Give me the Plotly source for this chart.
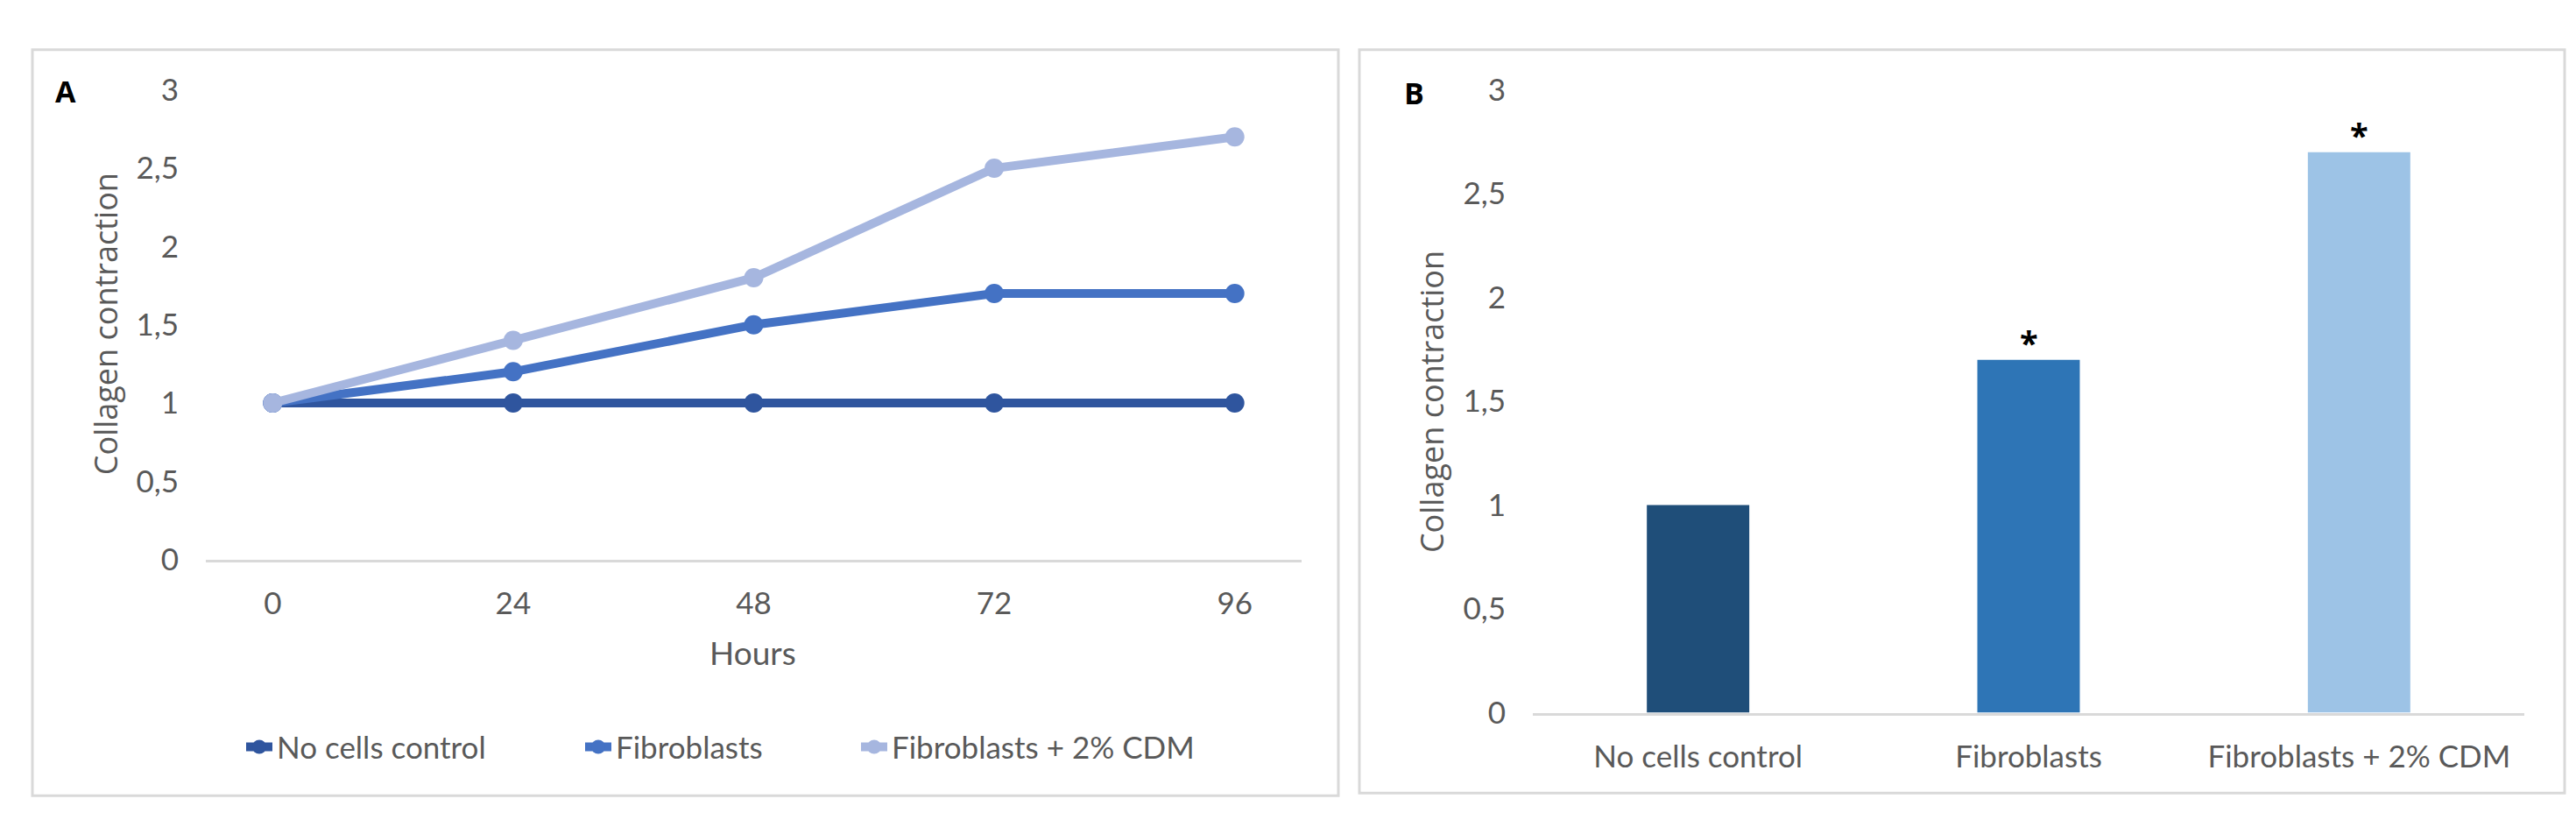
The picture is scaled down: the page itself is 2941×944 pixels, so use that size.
import plotly.graph_objects as go

W, H = 2941, 944

# ---- data ----
hours = ["0", "24", "48", "72", "96"]
no_cells = [1, 1, 1, 1, 1]
fibro = [1, 1.2, 1.5, 1.7, 1.7]
fibro_cdm = [1, 1.4, 1.8, 2.5, 2.7]

groups = ["No cells control", "Fibroblasts", "Fibroblasts + 2% CDM"]
group_vals = [1, 1.7, 2.7]
group_sig = ["", "*", "*"]

y_ticks = [0, 0.5, 1, 1.5, 2, 2.5, 3]
y_tick_text = ["0", "0,5", "1", "1,5", "2", "2,5", "3"]

line_colors = ["#2F559E", "#4472C4", "#A6B6DF"]
bar_colors = ["#1F4E79", "#2E75B6", "#9DC3E6"]

FONT = "Lato"
GRAY = "#595959"
AX = "#D9D9D9"
TICK = 35


def px(x):
    return x / W


def py(y):
    return 1 - y / H


fig = go.Figure()

legend_ids = ["legend", "legend2", "legend3"]
legend_text_x = [308, 695, 1010]

for name, vals, col, lg in zip(groups, [no_cells, fibro, fibro_cdm], line_colors, legend_ids):
    fig.add_trace(go.Scatter(
        x=hours, y=vals, name=name, mode="lines+markers",
        line=dict(color=col, width=10), marker=dict(color=col, size=22),
        xaxis="x", yaxis="y", legend=lg))

fig.add_trace(go.Bar(
    x=groups, y=group_vals, marker=dict(color=bar_colors, line=dict(width=0)),
    width=0.31, showlegend=False, xaxis="x2", yaxis="y2"))

for g, v, s in zip(groups, group_vals, group_sig):
    if s:
        fig.add_annotation(x=g, y=v, xref="x2", yref="y2", text="<b>" + s + "</b>",
                           showarrow=False, yshift=20, xanchor="center", yanchor="middle",
                           font=dict(family="Open Sans", size=38, color="#000000"))

common_y = dict(range=[0, 3], tickvals=y_ticks, ticktext=y_tick_text,
                showgrid=False, zeroline=False, showline=False,
                tickfont=dict(family=FONT, size=TICK, color=GRAY),
                ticks="", ticklabelstandoff=30)

legend_style = dict(orientation="h", xanchor="left", y=py(860), yanchor="middle",
                    font=dict(family=FONT, size=TICK, color=GRAY),
                    bgcolor="rgba(0,0,0,0)", borderwidth=0, itemwidth=30)

fig.update_layout(
    width=W, height=H,
    margin=dict(l=0, r=0, t=0, b=0),
    paper_bgcolor="white", plot_bgcolor="white",
    xaxis=dict(domain=[px(227), px(1478)], anchor="y", showgrid=False,
               showline=True, linecolor=AX, linewidth=3, ticks="",
               tickfont=dict(family=FONT, size=TICK, color=GRAY),
               ticklabelstandoff=17),
    yaxis=dict(domain=[py(636), py(75)], anchor="x", **common_y),
    xaxis2=dict(domain=[px(1742), px(2874)], anchor="y2", showgrid=False,
                showline=True, linecolor=AX, linewidth=3, ticks="",
                tickfont=dict(family=FONT, size=TICK, color=GRAY),
                ticklabelstandoff=17),
    yaxis2=dict(domain=[py(819), py(75)], anchor="x2", **common_y),
    showlegend=True,
    legend=dict(x=px(legend_text_x[0] - 40), **legend_style),
    legend2=dict(x=px(legend_text_x[1] - 40), **legend_style),
    legend3=dict(x=px(legend_text_x[2] - 40), **legend_style),
)

# axis titles and panel letters
ann = dict(xref="paper", yref="paper", showarrow=False,
           xanchor="center", yanchor="middle")
fig.add_annotation(x=px(852), y=py(747), text="Hours",
                   font=dict(family=FONT, size=37, color=GRAY), **ann)
fig.add_annotation(x=px(112), y=py(355), text="Collagen contraction", textangle=-90,
                   font=dict(family="Open Sans", size=36, color=GRAY), **ann)
fig.add_annotation(x=px(1626), y=py(448), text="Collagen contraction", textangle=-90,
                   font=dict(family="Open Sans", size=36, color=GRAY), **ann)
fig.add_annotation(x=px(67), y=py(76), text="<b>A</b>",
                   font=dict(family="Open Sans", size=34, color="#000000"), **ann)
fig.add_annotation(x=px(1606), y=py(78), text="<b>B</b>",
                   font=dict(family="Open Sans", size=34, color="#000000"), **ann)

# panel borders
for x0, y0, x1, y1 in [(29, 27, 1520, 918), (1544, 27, 2920, 915)]:
    fig.add_shape(type="rect", xref="paper", yref="paper",
                  x0=px(x0), x1=px(x1), y0=py(y1), y1=py(y0),
                  line=dict(color=AX, width=3), fillcolor="rgba(0,0,0,0)")

fig.write_html("out.html")
